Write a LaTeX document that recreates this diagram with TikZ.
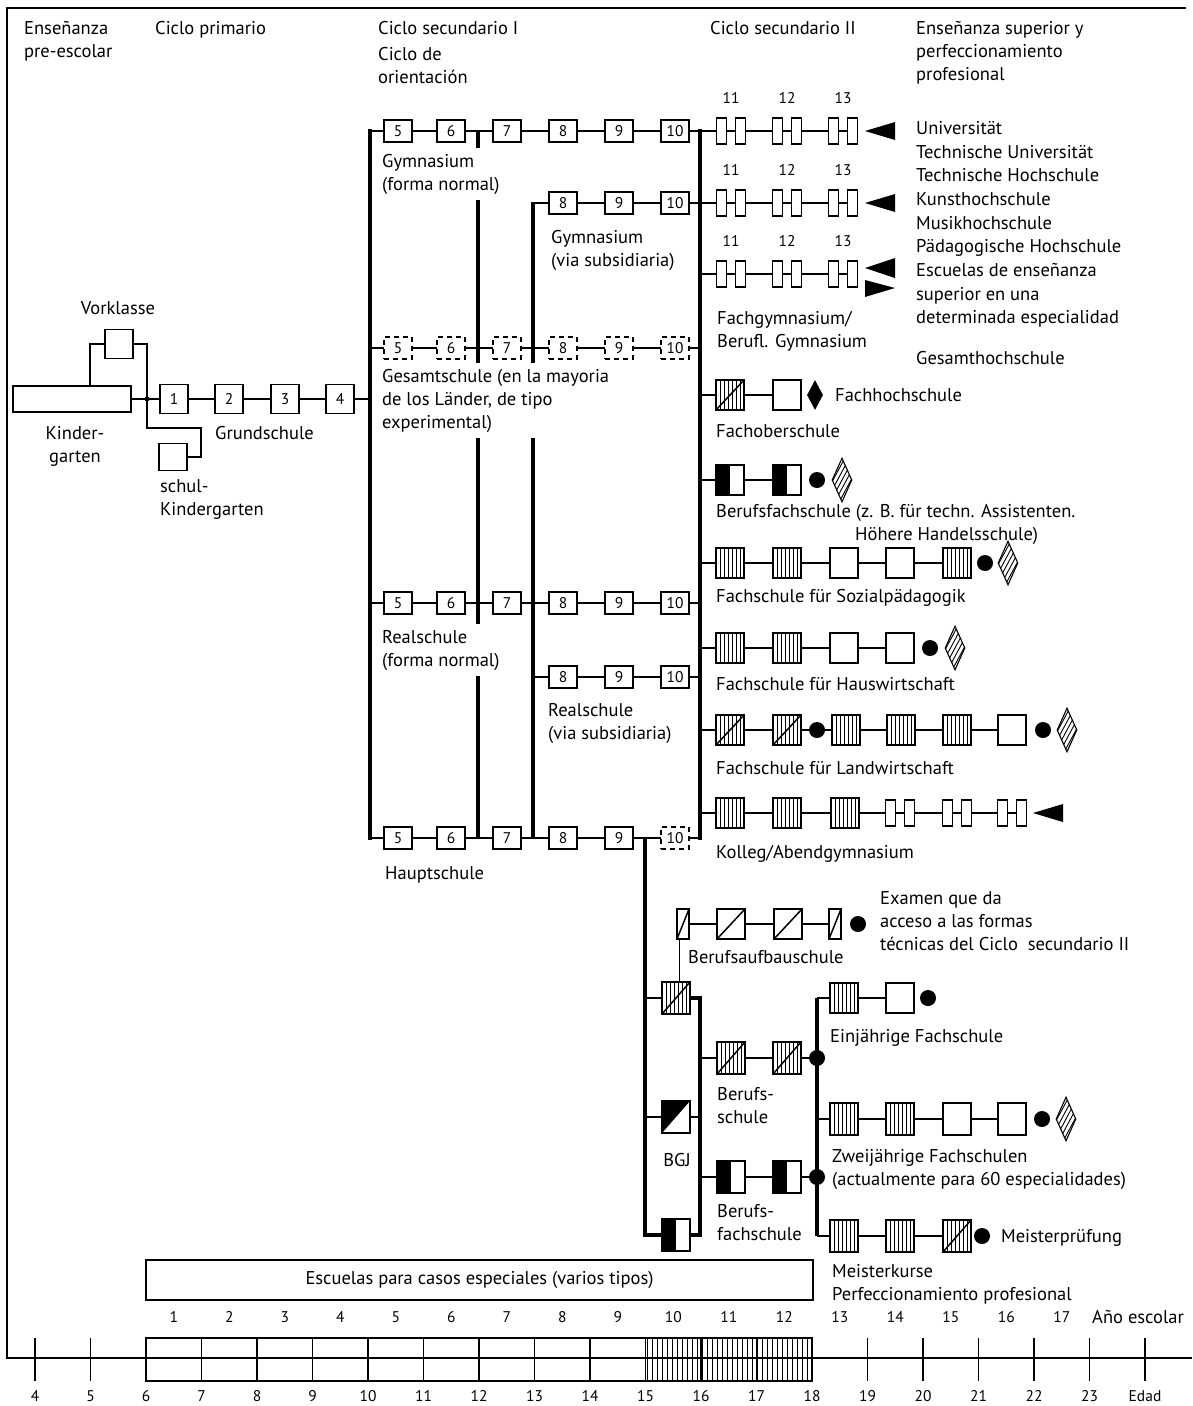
\documentclass[tikz,border=0pt]{standalone}
\usepackage{fontspec}
\setmainfont{PT Sans}
\usetikzlibrary{calc,shapes.geometric}
\pgfdeclarelayer{bg}
\pgfsetlayers{bg,main}
\newcommand\ppVlines{\foreach \i in {1,...,6}{\draw[black, line width=0.7pt] ($(path picture bounding box.south west)!\i/7!(path picture bounding box.south east)$) -- ($(path picture bounding box.north west)!\i/7!(path picture bounding box.north east)$);}}
\newcommand\ppDiag{\draw[black, line width=1.5pt] (path picture bounding box.south west) -- (path picture bounding box.north east);}
\newcommand\ppHatch{\foreach \k in {-6,...,6}{\draw[black, line width=0.9pt] ([shift={({\k*4.5-14},26)}]path picture bounding box.center) -- ([shift={({\k*4.5+14},-26)}]path picture bounding box.center);}}
\newcommand\hpair[3]{\node[hrect] (#1a) at ({#2-9.25},#3) {};\node[hrect] (#1b) at ({#2+9.25},#3) {};}
\tikzset{
  lab/.style={font=\fontsize{18.5}{23}\selectfont, inner sep=0pt, anchor=north west, align=left},
  mask/.style={fill=white, inner xsep=2pt, inner ysep=6pt},
  numf/.style={font=\fontsize{15.5}{17}\selectfont, inner sep=0pt},
  sbox/.style={draw, line width=1.3pt, fill=white, minimum width=28pt, minimum height=22pt, inner sep=0pt, font=\fontsize{15.5}{17}\selectfont},
  dbox/.style={sbox, dash pattern=on 5pt off 4pt},
  gbox/.style={sbox, minimum height=29pt},
  bbox/.style={draw, line width=1.3pt, fill=white, minimum width=28pt, minimum height=30pt, inner sep=0pt},
  vbox/.style={bbox, path picture={\ppVlines}},
  vdbox/.style={bbox, path picture={\ppVlines\ppDiag}},
  dgbox/.style={bbox, path picture={\ppDiag}},
  nbox/.style={bbox, minimum width=12pt, path picture={\ppDiag}},
  hbbox/.style={bbox, path picture={\fill[black] (path picture bounding box.south west) rectangle (path picture bounding box.north);}},
  bgjbox/.style={bbox, path picture={\fill[black] (path picture bounding box.south west) -- (path picture bounding box.north west) -- (path picture bounding box.north east) -- cycle;}},
  hrect/.style={draw, line width=1.3pt, fill=white, minimum width=10pt, minimum height=26pt, inner sep=0pt},
  bdot/.style={circle, fill=black, minimum size=16pt, inner sep=0pt},
  bdia/.style={diamond, fill=black, minimum width=16pt, minimum height=30pt, inner sep=0pt},
  hdia/.style={diamond, draw, fill=white, line width=1.1pt, minimum width=20pt, minimum height=44pt, inner sep=0pt, path picture={\ppHatch}},
  conn/.style={line width=2pt},
  tconn/.style={line width=1.6pt},
  lconn/.style={line width=2.6pt},
  spine/.style={line width=4pt},
}
\begin{document}
\begin{tikzpicture}[x=1pt,y=-1pt]
\useasboundingbox (0,0) rectangle (1192,1406);
% ---------- frame ----------
\coordinate (fTR) at (1186,8); \coordinate (fTL) at (7,8);
\coordinate (fBL) at (7,1358); \coordinate (fBR) at (1192,1358);
\draw[line width=2.2pt] (fTR) -- (fTL) -- (fBL) -- (fBR);
% ---------- headers ----------
\node[lab] (hA) at (24,21) {Enseñanza\\pre-escolar};
\node[lab] (hB) at (155,21) {Ciclo primario};
\node[lab] (hC) at (378,21) {Ciclo secundario I};
\node[lab] (hD) at (378,47) {Ciclo de\\orientación};
\node[lab] (hE) at (710,21) {Ciclo secundario II};
\node[lab] (hF) at (916,21) {Enseñanza superior y\\perfeccionamiento\\profesional};
% ---------- pre-school and primary ----------
\node[draw, fill=white, line width=1.3pt, minimum width=118pt, minimum height=26pt, inner sep=0pt] (kg) at (72,399) {};
\node[gbox] (vk) at (119,344) {};
\node[gbox, minimum height=27pt] (sk) at (173,457) {};
\foreach \n/\x in {1/174,2/229,3/285,4/340}{\node[gbox] (p\n) at (\x,399) {\n};}
\coordinate (jk) at (147,399);
\coordinate (kgv) at (90,386);
\coordinate (sk1) at (201,428);
\node[font=\fontsize{18.5}{23}\selectfont, inner sep=0pt] (lvk) at (118,308) {Vorklasse};
\node[lab, align=center, anchor=north] (lkg) at (75,426) {Kinder-\\garten};
\node[lab] (lsk) at (160,479) {schul-\\Kindergarten};
\node[lab] (lgs) at (215,426) {Grundschule};
% ---------- secondary I ----------
\foreach \n/\x in {5/398,6/451,7/507,8/563,9/619,10/675}{
  \node[sbox] (g\n) at (\x,131) {\n};
  \node[dbox] (e\n) at (\x,348) {\n};
  \node[sbox] (r\n) at (\x,603) {\n};
}
\foreach \n/\x in {8/563,9/619,10/675}{
  \node[sbox] (gs\n) at (\x,203) {\n};
  \node[sbox] (rs\n) at (\x,677) {\n};
}
\foreach \n/\x in {5/398,6/451,7/507,8/563,9/619}{\node[sbox] (h\n) at (\x,838) {\n};}
\node[dbox] (h10) at (675,838) {10};
\coordinate (La) at (370,129); \coordinate (Lb) at (370,840);
\coordinate (Ma) at (478,130); \coordinate (Mb) at (478,839);
\coordinate (Na) at (533,202); \coordinate (Nb) at (533,839);
\coordinate (Ra) at (700,129); \coordinate (Rb) at (700,840);
\coordinate (Ha) at (645,837); \coordinate (Hb) at (645,1235);
\node[lab, mask] (lg) at (380,148) {Gymnasium\\(forma normal)};
\node[lab] (lgs2) at (551,230) {Gymnasium\\(via subsidiaria)};
\node[lab, mask] (le) at (380,363) {Gesamtschule (en la mayoria\\de los Länder, de tipo\\experimental)};
\node[lab, mask] (lr) at (380,624) {Realschule\\(forma normal)};
\node[lab] (lrs) at (548,703) {Realschule\\(via subsidiaria)};
\node[lab] (lh) at (385,866) {Hauptschule};
% ---------- secondary II ----------
\foreach \r/\y in {u/131,v/203,w/274}{
  \hpair{\r11}{731}{\y}\hpair{\r12}{787}{\y}\hpair{\r13}{843}{\y}
  \node[numf] (\r n11) at (731,\y-33) {11};
  \node[numf] (\r n12) at (787,\y-33) {12};
  \node[numf] (\r n13) at (843,\y-33) {13};
}
\fill (865,131) -- (895,122) -- (895,140) -- cycle;
\fill (865,203) -- (895,194) -- (895,212) -- cycle;
\fill (865,268) -- (895,258) -- (895,278) -- cycle;
\fill (865,280) -- (895,288) -- (865,297) -- cycle;
\node[lab, font=\fontsize{18.5}{23.7}\selectfont] (uni) at (916,121) {Universität\\Technische Universität\\Technische Hochschule\\Kunsthochschule\\Musikhochschule\\Pädagogische Hochschule\\Escuelas de enseñanza\\superior en una\\determinada especialidad};
\node[lab] (gh) at (916,351) {Gesamthochschule};
\node[lab] (lfg) at (717,311) {Fachgymnasium/\\Berufl. Gymnasium};
% Fachoberschule
\node[vdbox] (fo1) at (730,395) {};
\node[bbox] (fo2) at (787,395) {};
\node[bdia] (fod) at (815,395) {};
\node[lab] (lfh) at (835,388) {Fachhochschule};
\node[lab] (lfo) at (716,424) {Fachoberschule};
% Berufsfachschule
\node[hbbox] (bq1) at (730,480) {};
\node[hbbox] (bq2) at (787,480) {};
\node[bdot] (bqd) at (817,480) {};
\node[hdia] (bqx) at (842,480) {};
\node[lab] (lbq) at (716,504) {Berufsfachschule (z. B. für techn. Assistenten.};
\node[lab] (lbq2) at (855,527) {Höhere Handelsschule)};
% Sozialpaedagogik
\node[vbox] (sp1) at (730,563) {};
\node[vbox] (sp2) at (787,563) {};
\node[bbox] (sp3) at (844,563) {};
\node[bbox] (sp4) at (900,563) {};
\node[vbox] (sp5) at (957,563) {};
\node[bdot] (spd) at (985,563) {};
\node[hdia] (spx) at (1008,563) {};
\node[lab] (lsp) at (716,589) {Fachschule für Sozialpädagogik};
% Hauswirtschaft
\node[vbox] (hw1) at (730,648) {};
\node[vbox] (hw2) at (787,648) {};
\node[bbox] (hw3) at (844,648) {};
\node[bbox] (hw4) at (900,648) {};
\node[bdot] (hwd) at (930,648) {};
\node[hdia] (hwx) at (955,648) {};
\node[lab] (lhw) at (716,677) {Fachschule für Hauswirtschaft};
% Landwirtschaft
\node[vdbox] (lw1) at (730,730) {};
\node[vdbox] (lw2) at (787,730) {};
\node[bdot] (lwj) at (817,730) {};
\node[vbox] (lw3) at (846,730) {};
\node[vbox] (lw4) at (901,730) {};
\node[vbox] (lw5) at (957,730) {};
\node[bbox] (lw6) at (1012,730) {};
\node[bdot] (lwd) at (1043,730) {};
\node[hdia] (lwx) at (1067,730) {};
\node[lab] (llw) at (716,761) {Fachschule für Landwirtschaft};
% Kolleg
\node[vbox] (ko1) at (730,813) {};
\node[vbox] (ko2) at (787,813) {};
\node[vbox] (ko3) at (845,813) {};
\hpair{k14}{900}{813}\hpair{k15}{957}{813}\hpair{k16}{1012}{813}
\fill (1033,813) -- (1063,804) -- (1063,822) -- cycle;
\node[lab] (lko) at (716,845) {Kolleg/Abendgymnasium};
% ---------- lower part ----------
\node[nbox] (ba1) at (683,924) {};
\node[dgbox] (ba2) at (731,924) {};
\node[dgbox] (ba3) at (788,924) {};
\node[nbox] (ba4) at (835,924) {};
\node[bdot] (bad) at (858,924) {};
\node[lab] (lex) at (880,891) {Examen que da\\acceso a las formas\\técnicas del Ciclo\ \ secundario II};
\node[lab] (lba) at (688,950) {Berufsaufbauschule};
\node[vdbox, minimum height=32pt] (bA) at (676,998) {};
\node[bgjbox, minimum height=32pt] (bB) at (676,1117) {};
\node[hbbox, minimum height=32pt] (bC) at (676,1235) {};
\coordinate (Pa) at (700,998); \coordinate (Pb) at (700,1235);
\node[lab, anchor=center] (lbgj) at (677,1160) {BGJ};
\node[vdbox, minimum height=32pt] (bs1) at (731,1058) {};
\node[vdbox, minimum height=32pt] (bs2) at (787,1058) {};
\node[hbbox, minimum height=32pt] (bf1) at (731,1177) {};
\node[hbbox, minimum height=32pt] (bf2) at (787,1177) {};
\coordinate (Ja) at (817,998); \coordinate (Jb) at (817,1236);
\node[bdot] (jbs) at (817,1058) {};
\node[bdot] (jbf) at (817,1177) {};
\node[lab] (lbs) at (717,1087) {Berufs-\\schule};
\node[lab] (lbf) at (717,1204) {Berufs-\\fachschule};
\node[vbox] (ej1) at (844,998) {};
\node[bbox] (ej2) at (900,998) {};
\node[bdot] (ejd) at (928,998) {};
\node[lab] (lej) at (830,1029) {Einjährige Fachschule};
\node[vbox, minimum height=32pt] (zw1) at (844,1119) {};
\node[vbox, minimum height=32pt] (zw2) at (900,1119) {};
\node[bbox, minimum height=32pt] (zw3) at (957,1119) {};
\node[bbox, minimum height=32pt] (zw4) at (1012,1119) {};
\node[bdot] (zwd) at (1042,1119) {};
\node[hdia] (zwx) at (1066,1119) {};
\node[lab] (lzw) at (832,1149) {Zweijährige Fachschulen\\(actualmente para 60 especialidades)};
\node[vbox, minimum height=32pt] (mk1) at (844,1236) {};
\node[vbox, minimum height=32pt] (mk2) at (900,1236) {};
\node[vdbox, minimum height=32pt] (mk3) at (957,1236) {};
\node[bdot] (mkd) at (982,1236) {};
\node[lab] (lmp) at (1001,1229) {Meisterprüfung};
\node[lab] (lmk) at (832,1264) {Meisterkurse\\Perfeccionamiento profesional};
% ---------- connectors (behind boxes) ----------
\begin{pgfonlayer}{bg}
\draw[lconn] (kgv) |- (vk.center);
\draw[lconn] (vk.center) -| (jk);
\draw[lconn] (kg.center) -- (jk) -- (p1.center);
\draw[lconn] (jk) |- (sk1) |- (sk.center);
\fill (jk) circle (2.5);
\draw[conn] (p1.center) -- (p2.center) -- (p3.center) -- (p4.center) -- (La |- p4);
\draw[spine] (La) -- (Lb);
\draw[spine] (Ma) -- (Mb);
\draw[spine] (Na) -- (Nb);
\draw[spine] (Ra) -- (Rb);
\draw[conn] (La |- g5) -- (g5.center) -- (g6.center) -- (g7.center) -- (g8.center) -- (g9.center) -- (g10.center) -- (Ra |- g10);
\draw[conn] (Na |- gs8) -- (gs8.center) -- (gs9.center) -- (gs10.center) -- (Ra |- gs10);
\draw[conn] (La |- e5) -- (e5.center) -- (e6.center) -- (e7.center) -- (e8.center) -- (e9.center) -- (e10.center) -- (Ra |- e10);
\draw[conn] (La |- r5) -- (r5.center) -- (r6.center) -- (r7.center) -- (r8.center) -- (r9.center) -- (r10.center) -- (Ra |- r10);
\draw[conn] (Na |- rs8) -- (rs8.center) -- (rs9.center) -- (rs10.center) -- (Ra |- rs10);
\draw[conn] (La |- h5) -- (h5.center) -- (h6.center) -- (h7.center) -- (h8.center) -- (h9.center) -- (h10.center) -- (Ra |- h10);
\foreach \r in {u,v,w}{
  \draw[conn] (Ra |- \r11a) -- (\r11a.center) -- (\r11b.center) -- (\r12a.center) -- (\r12b.center) -- (\r13a.center) -- (\r13b.center);
}
\draw[conn] (Ra |- fo1) -- (fo1.center) -- (fo2.center);
\draw[conn] (Ra |- bq1) -- (bq1.center) -- (bq2.center);
\draw[conn] (Ra |- sp1) -- (sp1.center) -- (sp2.center) -- (sp3.center) -- (sp4.center) -- (sp5.center);
\draw[conn] (Ra |- hw1) -- (hw1.center) -- (hw2.center) -- (hw3.center) -- (hw4.center);
\draw[conn] (Ra |- lw1) -- (lw1.center) -- (lw2.center) -- (lwj.center) -- (lw3.center) -- (lw4.center) -- (lw5.center) -- (lw6.center);
\draw[conn] (Ra |- ko1) -- (ko1.center) -- (ko2.center) -- (ko3.center) -- (k14a.center) -- (k14b.center) -- (k15a.center) -- (k15b.center) -- (k16a.center) -- (k16b.center);
\draw[tconn] (ba1.center) -- (ba2.center) -- (ba3.center) -- (ba4.center);
\draw[line width=1pt] ([xshift=-4pt]ba1.south) -- ([xshift=-4pt]ba1.south |- bA.north);
\draw[spine] (Ha) -- (Hb) -- (bC.center);
\draw[lconn] (Ha |- bA) -- (bA.center);
\draw[lconn] (Ha |- bB) -- (bB.center);
\draw[spine] (bA.center) -- (Pa) -- (Pb) -- (bC.center);
\draw[lconn] (bB.center) -- (Pa |- bB);
\draw[spine] (Ja) -- (Jb);
\draw[lconn] (Pa |- bs1) -- (bs1.center) -- (bs2.center) -- (jbs.center);
\draw[lconn] (Pa |- bf1) -- (bf1.center) -- (bf2.center) -- (jbf.center);
\draw[lconn] (Ja) -- (ej1.center) -- (ej2.center);
\draw[lconn] (Ja |- zw1) -- (zw1.center) -- (zw2.center) -- (zw3.center) -- (zw4.center);
\draw[lconn] (Jb) -- (mk1.center) -- (mk2.center) -- (mk3.center);
\end{pgfonlayer}
% ---------- bottom ----------
\node[draw, line width=1.5pt, minimum width=667pt, minimum height=40pt, inner sep=0pt, font=\fontsize{18.5}{20}\selectfont] (esp) at (479.5,1280) {Escuelas para casos especiales (varios tipos)};
\foreach \n in {1,...,17}{\node[numf] (yr\n) at ({146+(\n-0.5)*55.5},1317) {\n};}
\node[lab, anchor=west] (ano) at (1092,1317) {Año escolar};
\draw[line width=1.3pt] (146,1338) rectangle (812,1381);
\foreach \a in {7,...,17}{\draw[line width=1.1pt] ({146+(\a-6)*55.5},1338) -- ({146+(\a-6)*55.5},1381);}
\foreach \x in {647,652,...,810}{\draw[line width=0.8pt] (\x,1338) -- (\x,1381);}
\foreach \a in {4,5,19,20,21,22,23,24}{\draw[line width=1.1pt] ({146+(\a-6)*55.5},1338) -- ({146+(\a-6)*55.5},1381);}
\foreach \a in {4,...,23}{\node[numf] (ag\a) at ({146+(\a-6)*55.5},1396) {\a};}
\node[numf] (edad) at (1145,1396) {Edad};
\end{tikzpicture}
\end{document}
